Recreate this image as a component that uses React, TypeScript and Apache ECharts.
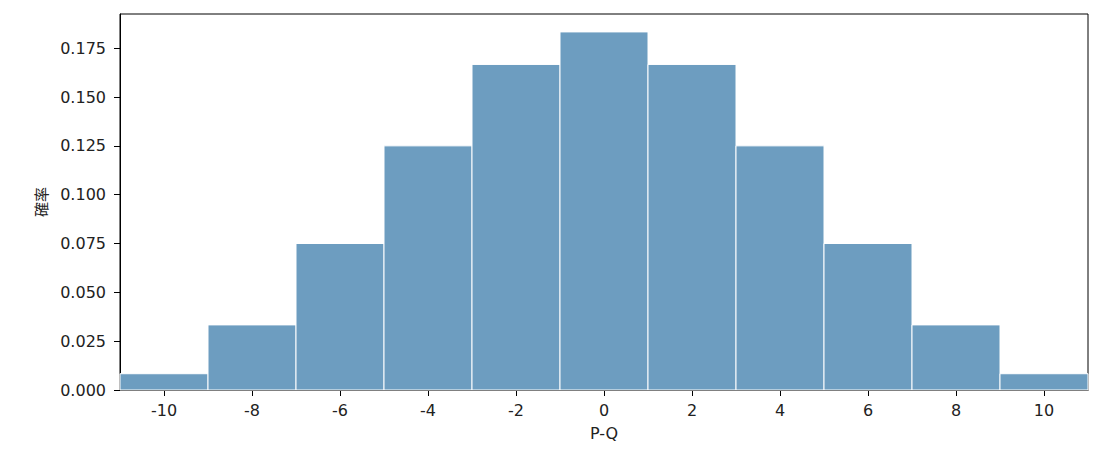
import React, { useEffect, useRef } from "react";
import * as echarts from "echarts";

const binCenters = [-10, -8, -6, -4, -2, 0, 2, 4, 6, 8, 10];
const probabilities = [
  0.00833, 0.03333, 0.075, 0.125, 0.16667, 0.18333, 0.16667, 0.125, 0.075, 0.03333, 0.00833,
];
const xTicks = [-10, -8, -6, -4, -2, 0, 2, 4, 6, 8, 10];
const yTicks = [0, 0.025, 0.05, 0.075, 0.1, 0.125, 0.15, 0.175];
const binWidth = 2;

export default function App() {
  const ref = useRef<HTMLDivElement>(null);
  useEffect(() => {
    if (!ref.current) return;
    const chart = echarts.init(ref.current, null, { renderer: "svg" });
    const font = "DejaVu Sans";
    chart.setOption({
      animation: false,
      grid: {
        left: 120,
        right: 21,
        top: 14,
        bottom: 69,
        show: true,
        borderColor: "#000",
        borderWidth: 1,
        backgroundColor: "transparent",
      },
      xAxis: {
        type: "value",
        min: -11,
        max: 11,
        name: "P-Q",
        nameLocation: "middle",
        nameGap: 35,
        nameTextStyle: { fontFamily: font, fontSize: 16, color: "#222" },
        axisLine: { show: true, onZero: false, lineStyle: { color: "#000" } },
        axisTick: { show: true, length: 6, customValues: xTicks, lineStyle: { color: "#000" } },
        axisLabel: {
          customValues: xTicks,
          fontFamily: font,
          fontSize: 16,
          color: "#222",
          margin: 12,
        },
        splitLine: { show: false },
      },
      yAxis: {
        type: "value",
        min: 0,
        max: 0.1925,
        name: "確率",
        nameLocation: "middle",
        nameGap: 72,
        nameRotate: 90,
        nameTextStyle: { fontFamily: "Noto Sans CJK JP", fontSize: 15, color: "#222" },
        axisLine: { show: true, onZero: false, lineStyle: { color: "#000" } },
        axisTick: { show: true, length: 6, customValues: yTicks, lineStyle: { color: "#000" } },
        axisLabel: {
          customValues: yTicks,
          fontFamily: font,
          fontSize: 16,
          color: "#222",
          margin: 14,
          formatter: (v: number) => v.toFixed(3),
        },
        splitLine: { show: false },
      },
      series: [
        {
          type: "custom",
          data: binCenters.map((c, i) => [c, probabilities[i]]),
          encode: { x: 0, y: 1 },
          renderItem: (params: any, api: any) => {
            const c = api.value(0);
            const v = api.value(1);
            const p0 = api.coord([c - binWidth / 2, v]);
            const p1 = api.coord([c + binWidth / 2, 0]);
            return {
              type: "rect",
              shape: { x: p0[0], y: p0[1], width: p1[0] - p0[0], height: p1[1] - p0[1] },
              style: { fill: "#6d9dc0", stroke: "#ffffff", lineWidth: 1 },
            };
          },
        },
      ],
    });
    return () => chart.dispose();
  }, []);
  return (
    <div
      ref={ref}
      style={{ position: "fixed", left: 0, top: 0, width: 1109, height: 459, background: "#fff" }}
    />
  );
}
